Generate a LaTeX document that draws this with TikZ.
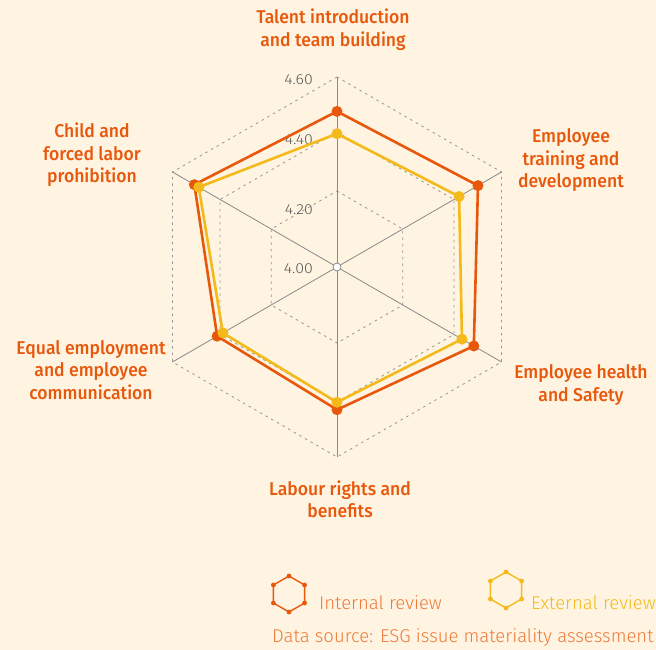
\documentclass[tikz,border=0pt]{standalone}
\usepackage{fontspec}
\setmainfont{Fira Sans}
\newfontfamily\labfont{Fira Sans Medium}[FakeStretch=0.95]
\newfontfamily\thinfont{Fira Sans Light}
\newfontfamily\tickfont{Fira Sans Light}[FakeStretch=1.1]
\usepackage{xcolor}
\usetikzlibrary{positioning, calc}

\definecolor{paper}{HTML}{FEF4E1}
\definecolor{intern}{HTML}{E8580C}
\definecolor{extern}{HTML}{F4BA1B}
\definecolor{axisgray}{HTML}{8A8A8A}
\definecolor{ticktext}{HTML}{5A5A5A}
\definecolor{legtext}{HTML}{EE7A3A}

\begin{document}
\begin{tikzpicture}[
                  x=1pt, y=1pt,
                  every node/.style={inner sep=0pt},
                  axis/.style={draw=axisgray, line width=0.8pt},
                  ring/.style={draw=axisgray!90, line width=0.8pt, dash pattern=on 2.5pt off 4pt},
                  topic/.style={font=\labfont\fontsize{18.5}{22.5}\selectfont, text=intern, align=center},
                  tick/.style={font=\tickfont\fontsize{14.5}{14.5}\selectfont, text=ticktext, anchor=east},
                  iline/.style={draw=intern, line width=2.6pt, line join=round},
                  eline/.style={draw=extern, line width=2.6pt, line join=round},
                  idot/.style={circle, fill=intern, minimum size=11pt},
                  edot/.style={circle, fill=extern, minimum size=11pt},
                  legtxt/.style={font=\thinfont\fontsize{18.5}{18.5}\selectfont, anchor=west}
            ]

            % Frame
            \fill[paper] (-337,-383) rectangle (319,267);
            \useasboundingbox (-337,-383) rectangle (319,267);

            % Rings and axes
            \foreach \r in {76,135,190}
                  \draw[ring] (90:\r) -- (30:\r) -- (-30:\r) -- (-90:\r) -- (210:\r) -- (150:\r) -- cycle;
            \foreach \a in {90,30,-30,-90,210,150}
                  \draw[axis] (0,0) -- (\a:190);
            \node (hub) [circle, draw=axisgray, fill=white, line width=0.8pt, minimum size=8pt] at (0,0) {};

            % Tick values
            \node (t460) [tick] at (-24,187) {4.60};
            \node (t440) [tick] at (-24,127) {4.40};
            \node (t420) [tick] at (-24,57) {4.20};
            \node (t400) [tick] at (-24,-2) {4.00};

            % Internal review
            \coordinate (i1) at (90:155.6);
            \coordinate (i2) at (30:162.8);
            \coordinate (i3) at (-30:158);
            \coordinate (i4) at (-90:142.7);
            \coordinate (i5) at (210:138.4);
            \coordinate (i6) at (150:164.7);
            \draw[iline] (i1) -- (i2) -- (i3) -- (i4) -- (i5) -- (i6) -- cycle;
            \foreach \p in {i1,i2,i3,i4,i5,i6}
                  \node[idot] at (\p) {};

            % External review
            \coordinate (e1) at (90:133.3);
            \coordinate (e2) at (30:141);
            \coordinate (e3) at (-30:144.3);
            \coordinate (e4) at (-90:135.3);
            \coordinate (e5) at (210:131.8);
            \coordinate (e6) at (150:159.6);
            \draw[eline] (e1) -- (e2) -- (e3) -- (e4) -- (e5) -- (e6) -- cycle;
            \foreach \p in {e1,e2,e3,e4,e5,e6}
                  \node[edot] at (\p) {};

            % Topics
            \node (talent) [topic] at (-4,237.5) {Talent introduction\\and team building};
            \node (training) [topic] at (234,106.5) {Employee\\training and\\development};
            \node (health) [topic] at (244,-118) {Employee health\\and Safety};
            \node (labour) [topic] at (3,-232.5) {Labour rights and\\benefits};
            \node (equal) [topic] at (-246,-103) {Equal employment\\and employee\\communication};
            \node (child) [topic] at (-245,112) {Child and\\forced labor\\prohibition};

            % Legend
            \coordinate (ikey) at (-48,-327);
            \coordinate (ekey) at (169,-323);
            \draw[intern, line width=1.4pt] ($(ikey)+(90:18)$) \foreach \a in {30,-30,-90,210,150} { -- ($(ikey)+(\a:18)$) } -- cycle;
            \foreach \a in {90,30,-30,-90,210,150}
                  \fill[intern] ($(ikey)+(\a:18)$) circle (2.4pt);
            \draw[extern, line width=1.4pt] ($(ekey)+(90:18)$) \foreach \a in {30,-30,-90,210,150} { -- ($(ekey)+(\a:18)$) } -- cycle;
            \foreach \a in {90,30,-30,-90,210,150}
                  \fill[extern] ($(ekey)+(\a:18)$) circle (2.4pt);
            \node (itxt) [legtxt, text=legtext] at (-18,-336) {Internal review};
            \node (etxt) [legtxt, text=extern] at (194,-336) {External review};
            \node (source) [legtxt, text=legtext] at (-65,-370) {Data source: ESG issue materiality assessment};

      \end{tikzpicture}
\end{document}
